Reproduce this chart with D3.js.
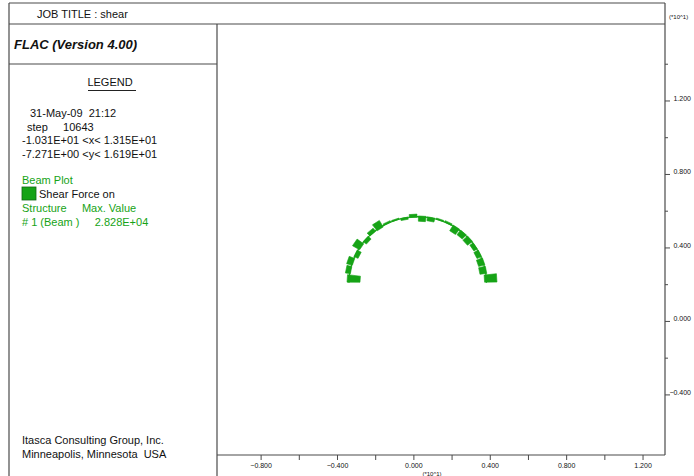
<!DOCTYPE html>
<html>
<head>
<meta charset="utf-8">
<script src="https://cdn.jsdelivr.net/npm/d3@7"></script>
<style>
  html, body { margin: 0; padding: 0; background: #fff; }
  svg { display: block; }
  text { font-family: "Liberation Sans", Arial, sans-serif; white-space: pre; }
</style>
</head>
<body>
<svg id="plot" width="694" height="476"></svg>
<script>
// Model extents (m), as reported in the legend
const xRange = [-10.31, 13.15];
const yRange = [-7.271, 16.19];

// Lining geometry: semicircular beam (m, degrees)
const beamCenter = [0.2, 2.1];
const beamRadius = 3.6;
const beamStartDeg = 180;
const beamEndDeg = 0;

// Shear force per beam element (N), left springline to right springline;
// positive plotted outside the lining, negative inside
const shearForce = [-28280, 11000, 13000, -10000, 18000, -9000, 9000, 17000,
                    4000, 3000, -5000, 7000, -12000, -9000, 3000, 4000,
                    -15000, -13000, -14000, -9000, -11000, -14000, -15000, 27000];
const maxShear = 2.828e4;

// Axis ticks (model units *10^1)
const xTicks = [-0.8, -0.6, -0.4, -0.2, 0.0, 0.2, 0.4, 0.6, 0.8, 1.0, 1.2];
const xLabelTicks = [-0.8, -0.4, 0.0, 0.4, 0.8, 1.2];
const yTicks = [-0.4, -0.2, 0.0, 0.2, 0.4, 0.6, 0.8, 1.0, 1.2, 1.4];
const yLabelTicks = [-0.4, 0.0, 0.4, 0.8, 1.2];

// Legend text
const jobTitle = "JOB TITLE : shear";
const versionText = "FLAC (Version 4.00)";
const legendInfo = ["31-May-09  21:12", "step     10643",
                    "-1.031E+01 <x< 1.315E+01", "-7.271E+00 <y< 1.619E+01"];
const footer = ["Itasca Consulting Group, Inc.", "Minneapolis, Minnesota  USA"];

const GREEN = "#16a316";
const FRAME = "#4a4a4a";

const svg = d3.select("#plot");

// plot window
const px0 = 217, px1 = 665, py0 = 24, py1 = 455;
const x = d3.scaleLinear().domain(xRange).range([px0, px1]);
const y = d3.scaleLinear().domain(yRange).range([py1, py0]);
const barSize = d3.scaleLinear().domain([0, maxShear]).range([0, 0.68]);

// frame lines
const frame = svg.append("g").attr("stroke", FRAME).attr("stroke-width", 1.2).attr("fill", "none");
const lines = [
  [9, 3, 665, 3], [9, 24, 665, 24], [9, 3, 9, 476], [217, 24, 217, 476],
  [665, 3, 665, 455], [217, 455, 665, 455], [9, 64, 217, 64]
];
lines.forEach(l => frame.append("line")
  .attr("x1", l[0]).attr("y1", l[1]).attr("x2", l[2]).attr("y2", l[3]));

// header and legend panel
svg.append("text").attr("x", 37).attr("y", 18).attr("font-size", 11).attr("fill", "#111").text(jobTitle);
svg.append("text").attr("x", 14).attr("y", 49).attr("font-size", 13)
  .attr("font-weight", "bold").attr("font-style", "italic").attr("fill", "#111").text(versionText);

svg.append("text").attr("x", 110).attr("y", 86).attr("font-size", 11)
  .attr("text-anchor", "middle").attr("fill", "#111").text("LEGEND");
svg.append("line").attr("x1", 88).attr("x2", 136).attr("y1", 90.5).attr("y2", 90.5)
  .attr("stroke", "#222").attr("stroke-width", 1);

const infoX = [30, 27, 22, 22];
legendInfo.forEach((t, i) => svg.append("text")
  .attr("x", infoX[i]).attr("y", 117 + i * 13.5).attr("font-size", 11).attr("fill", "#111").text(t));

svg.append("text").attr("x", 22).attr("y", 184).attr("font-size", 11).attr("fill", GREEN).text("Beam Plot");
svg.append("rect").attr("x", 22).attr("y", 187).attr("width", 14).attr("height", 13)
  .attr("fill", GREEN).attr("stroke", "#116611").attr("stroke-width", 0.8);
svg.append("text").attr("x", 39).attr("y", 198).attr("font-size", 11).attr("fill", "#111").text("Shear Force on");
svg.append("text").attr("x", 22).attr("y", 212).attr("font-size", 11).attr("fill", GREEN)
  .text("Structure     Max. Value");
svg.append("text").attr("x", 22).attr("y", 226).attr("font-size", 11).attr("fill", GREEN)
  .text("# 1 (Beam )     " + d3.format(".3e")(maxShear).replace("e+", "E+0"));

footer.forEach((t, i) => svg.append("text")
  .attr("x", 22).attr("y", 444 + i * 14).attr("font-size", 11).attr("fill", "#111").text(t));

// axis formatting
const fmt = d3.format(".3f");

// x axis (below plot window)
const xAxis = svg.append("g").attr("stroke", FRAME);
xTicks.forEach(v => {
  const xp = x(v * 10);
  xAxis.append("line").attr("x1", xp).attr("x2", xp).attr("y1", py1).attr("y2", py1 + 5).attr("stroke-width", 1);
});
xLabelTicks.forEach(v => {
  svg.append("text").attr("x", x(v * 10)).attr("y", 468).attr("font-size", 7)
    .attr("text-anchor", "middle").attr("fill", "#111").text(fmt(v));
});
svg.append("text").attr("x", 432).attr("y", 475.5).attr("font-size", 6)
  .attr("text-anchor", "middle").attr("fill", "#111").text("(*10^1)");

// y axis (right of plot window)
const yAxis = svg.append("g").attr("stroke", FRAME);
yTicks.forEach(v => {
  const yp = y(v * 10);
  const major = yLabelTicks.some(m => Math.abs(m - v) < 1e-9);
  yAxis.append("line").attr("x1", px1).attr("x2", px1 + (major ? 5 : 3))
    .attr("y1", yp).attr("y2", yp).attr("stroke-width", 1);
});
yLabelTicks.forEach(v => {
  svg.append("text").attr("x", 691).attr("y", y(v * 10)).attr("font-size", 7)
    .attr("text-anchor", "end").attr("fill", "#111").text(fmt(v));
});
svg.append("text").attr("x", 669).attr("y", 19).attr("font-size", 6)
  .attr("fill", "#111").text("(*10^1)");

// beam centreline
const nEl = shearForce.length;
const toRad = d => d * Math.PI / 180;
const arcPts = d3.range(0, 61).map(i => {
  const a = toRad(beamStartDeg + (beamEndDeg - beamStartDeg) * i / 60);
  return [beamCenter[0] + beamRadius * Math.cos(a), beamCenter[1] + beamRadius * Math.sin(a)];
});
svg.append("clipPath").attr("id", "win").append("rect")
  .attr("x", px0).attr("y", py0).attr("width", px1 - px0).attr("height", py1 - py0);
const plotG = svg.append("g").attr("clip-path", "url(#win)");

plotG.append("path")
  .attr("d", d3.line().x(d => x(d[0])).y(d => y(d[1]))(arcPts))
  .attr("fill", "none").attr("stroke", GREEN).attr("stroke-width", 1.2);

// shear force bars, one per element, drawn off the beam on the side of the sign
const dDeg = (beamEndDeg - beamStartDeg) / nEl;
shearForce.forEach((v, i) => {
  const a0 = toRad(beamStartDeg + dDeg * (i + 0.08));
  const a1 = toRad(beamStartDeg + dDeg * (i + 0.92));
  const h = barSize(Math.abs(v));
  const r0 = beamRadius - 0.15 * h * Math.sign(v);
  const r1 = beamRadius + 0.85 * h * Math.sign(v);
  const pts = [[r0, a0], [r1, a0], [r1, a1], [r0, a1]].map(([r, a]) =>
    [x(beamCenter[0] + r * Math.cos(a)), y(beamCenter[1] + r * Math.sin(a))]);
  plotG.append("polygon")
    .attr("points", pts.map(p => p.join(",")).join(" "))
    .attr("fill", GREEN).attr("stroke", GREEN).attr("stroke-width", 0.6);
});
</script>
</body>
</html>
